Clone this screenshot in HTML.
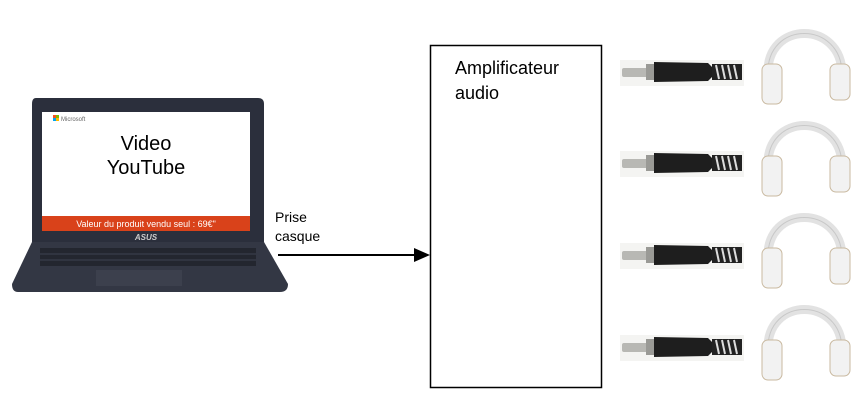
<!DOCTYPE html>
<html><head><meta charset="utf-8"><style>
body{margin:0;width:865px;height:419px;background:#fff;position:relative;overflow:hidden;font-family:"Liberation Sans",Arial,sans-serif}
.a{position:absolute}
</style></head><body>
<svg class="a" style="left:0;top:0" width="865" height="419">
<defs>
<g id="jack">
<rect x="0" y="-12" width="124" height="26" fill="#f4f4f2"/>
<rect x="2" y="-4" width="26" height="9" rx="2" fill="#b8b8b4"/>
<rect x="26" y="-8" width="8" height="16" fill="#9a9a96"/>
<path d="M34,-10 L88,-9 L92,-5 L92,5 L88,9 L34,10Z" fill="#1e1e1e"/>
<g fill="#222"><rect x="92" y="-8" width="30" height="16"/></g>
<g stroke="#ddd" stroke-width="2"><line x1="96" y1="-7" x2="99" y2="7"/><line x1="102" y1="-7" x2="105" y2="7"/><line x1="108" y1="-7" x2="111" y2="7"/><line x1="114" y1="-7" x2="117" y2="7"/></g>
</g>
<g id="hp">
<path d="M8,62 C6,8 82,8 82,62" fill="none" stroke="#e2e2e2" stroke-width="9"/>
<path d="M8,62 C6,8 82,8 82,62" fill="none" stroke="#c8c8c8" stroke-width="1"/>
<rect x="2" y="52" width="20" height="40" rx="6" fill="#f2f2f2" stroke="#c9b9a0"/>
<rect x="70" y="52" width="20" height="36" rx="6" fill="#f2f2f2" stroke="#c9b9a0"/>
</g>
</defs>
<!-- laptop -->
<path d="M36,98 L258,98 Q264,98 264,104 L264,242 L32,242 L32,104 Q32,98 36,98Z" fill="#2b2f3c"/>
<rect x="42" y="112" width="208" height="104" fill="#fff"/>
<rect x="42" y="216" width="208" height="15" fill="#d9421a"/>
<text x="146" y="227" font-size="9" fill="#fff" text-anchor="middle">Valeur du produit vendu seul : 69€"</text>
<rect x="53" y="115" width="3" height="3" fill="#f25022"/><rect x="56" y="115" width="3" height="3" fill="#7fba00"/><rect x="53" y="118" width="3" height="3" fill="#00a4ef"/><rect x="56" y="118" width="3" height="3" fill="#ffb900"/>
<text x="61" y="121" font-size="6" fill="#666">Microsoft</text>
<text x="146" y="150" font-size="20" text-anchor="middle" fill="#000">Video</text>
<text x="146" y="174" font-size="20" text-anchor="middle" fill="#000">YouTube</text>
<text x="146" y="240" font-size="8" font-weight="bold" fill="#ccc" text-anchor="middle" font-style="italic">ASUS</text>
<path d="M32,242 L264,242 L288,284 Q288,292 280,292 L18,292 Q12,292 12,284Z" fill="#333744"/>
<rect x="40" y="248" width="216" height="18" fill="#23262f"/>
<g stroke="#3e4250" stroke-width="1"><line x1="40" y1="254" x2="256" y2="254"/><line x1="40" y1="260" x2="256" y2="260"/></g>
<rect x="96" y="270" width="86" height="16" fill="#3c404d"/>
<!-- arrow -->
<text x="275" y="222" font-size="14">Prise</text>
<text x="275" y="241" font-size="14">casque</text>
<line x1="278" y1="255" x2="418" y2="255" stroke="#000" stroke-width="2"/>
<path d="M414,248 L430,255 L414,262Z" fill="#000"/>
<!-- box -->
<rect x="430.5" y="45.5" width="171" height="342" fill="#fff" stroke="#000" stroke-width="1.5"/>
<text x="455" y="74" font-size="18">Amplificateur</text>
<text x="455" y="99" font-size="18">audio</text>
<use href="#jack" x="620" y="72"/>
<use href="#jack" x="620" y="163"/>
<use href="#jack" x="620" y="255"/>
<use href="#jack" x="620" y="347"/>
<use href="#hp" x="760" y="12"/>
<use href="#hp" x="760" y="104"/>
<use href="#hp" x="760" y="196"/>
<use href="#hp" x="760" y="288"/>
</svg>
</body></html>
